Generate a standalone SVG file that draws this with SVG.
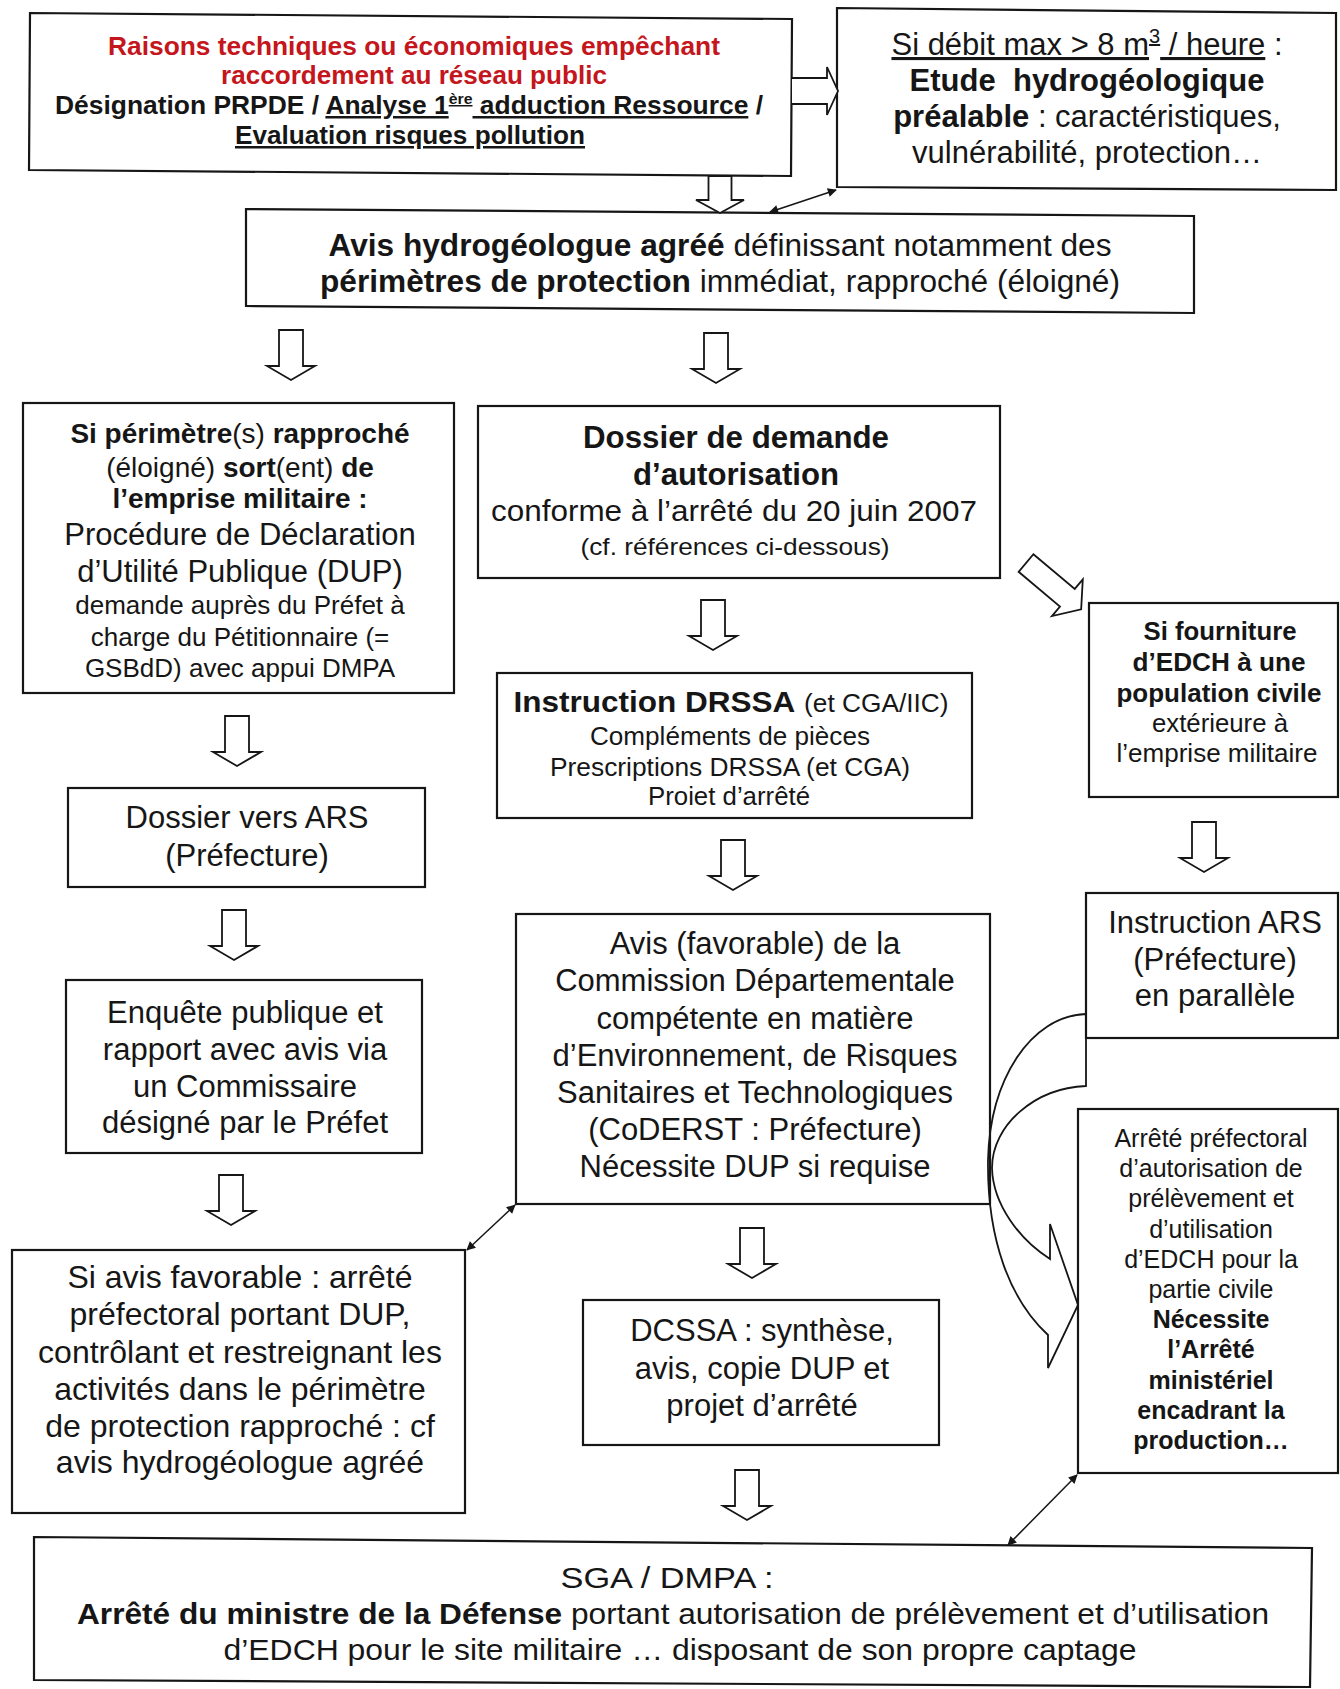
<svg xmlns="http://www.w3.org/2000/svg" width="1340" height="1689" viewBox="0 0 1340 1689">
<style>
.box{fill:#fff;stroke:#161616;stroke-width:2.2}
.t{font-family:"Liberation Sans",Arial,sans-serif;fill:#161616;text-anchor:middle}
.b{font-weight:bold}
.red{fill:#c4161c}
.u{text-decoration:underline}
.harr{fill:#fff;stroke:#161616;stroke-width:1.8;stroke-linejoin:miter}
.thin{fill:none;stroke:#161616;stroke-width:1.5;marker-start:url(#ah);marker-end:url(#ah)}
.curve{fill:none;stroke:#161616;stroke-width:1.8}
</style>
<defs>
<marker id="ah" viewBox="0 0 10 10" refX="9" refY="5" markerWidth="13" markerHeight="9" orient="auto-start-reverse" markerUnits="userSpaceOnUse"><path d="M0,0 L10,5 L0,10 z" fill="#161616"/></marker>
<path id="dn" d="M-12,0 H12 V36 H24 L0,50 L-24,36 H-12 Z"/>
</defs>
<rect width="1340" height="1689" fill="#fff"/>

<g id="n1">
<polygon class="box" points="30,13 792,19 791,176 29,170"/>
<text class="t b red" x="414" y="55" font-size="25" textLength="612" lengthAdjust="spacingAndGlyphs">Raisons techniques ou économiques empêchant</text>
<text class="t b red" x="414" y="84" font-size="25" textLength="386" lengthAdjust="spacingAndGlyphs">raccordement au réseau public</text>
<text class="t b" x="409" y="114" font-size="25" textLength="708" lengthAdjust="spacingAndGlyphs">Désignation PRPDE / <tspan class="u">Analyse 1<tspan dy="-10" font-size="15">ère</tspan><tspan dy="10"> adduction Ressource</tspan></tspan> /</text>
<text class="t b u" x="410" y="144" font-size="25" textLength="350" lengthAdjust="spacingAndGlyphs">Evaluation risques pollution</text>
</g>

<g id="n2">
<polygon class="box" points="837,8 1336,13 1336,190 837,187"/>
<text class="t" x="1087" y="55" font-size="31"><tspan class="u">Si débit max &gt; 8 m<tspan dy="-12" font-size="20">3</tspan><tspan dy="12"> / heure</tspan></tspan> :</text>
<text class="t b" x="1087" y="91" font-size="31" xml:space="preserve">Etude  hydrogéologique</text>
<text class="t" x="1087" y="127" font-size="31"><tspan class="b">préalable</tspan> : caractéristiques,</text>
<text class="t" x="1087" y="163" font-size="31">vulnérabilité, protection…</text>
</g>

<g id="n3">
<polygon class="box" points="246,209 1194,216 1194,313 246,306"/>
<text class="t" x="720" y="256" font-size="31" textLength="783" lengthAdjust="spacingAndGlyphs"><tspan class="b">Avis hydrogéologue agréé</tspan> définissant notamment des</text>
<text class="t" x="720" y="292" font-size="31" textLength="800" lengthAdjust="spacingAndGlyphs"><tspan class="b">périmètres de protection</tspan> immédiat, rapproché (éloigné)</text>
</g>

<g id="n4">
<rect class="box" x="23" y="403" width="431" height="290"/>
<text class="t" x="240" y="443" font-size="28"><tspan class="b">Si périmètre</tspan>(s) <tspan class="b">rapproché</tspan></text>
<text class="t" x="240" y="477" font-size="28">(éloigné) <tspan class="b">sort</tspan>(ent) <tspan class="b">de</tspan></text>
<text class="t b" x="240" y="508" font-size="28">l’emprise militaire :</text>
<text class="t" x="240" y="545" font-size="31">Procédure de Déclaration</text>
<text class="t" x="240" y="582" font-size="31">d’Utilité Publique (DUP)</text>
<text class="t" x="240" y="614" font-size="26">demande auprès du Préfet à</text>
<text class="t" x="240" y="646" font-size="26">charge du Pétitionnaire (=</text>
<text class="t" x="240" y="677" font-size="26">GSBdD) avec appui DMPA</text>
</g>

<g id="n5">
<rect class="box" x="478" y="406" width="522" height="172"/>
<text class="t b" x="736" y="448" font-size="31" textLength="306" lengthAdjust="spacingAndGlyphs">Dossier de demande</text>
<text class="t b" x="736" y="485" font-size="31" textLength="206" lengthAdjust="spacingAndGlyphs">d’autorisation</text>
<text class="t" x="734" y="521" font-size="30" textLength="486" lengthAdjust="spacingAndGlyphs">conforme à l’arrêté du 20 juin 2007</text>
<text class="t" x="735" y="555" font-size="24" textLength="309" lengthAdjust="spacingAndGlyphs">(cf. références ci-dessous)</text>
</g>

<g id="n6">
<rect class="box" x="497" y="673" width="475" height="145"/>
<text class="t" x="731" y="712" font-size="30" textLength="435" lengthAdjust="spacingAndGlyphs"><tspan class="b">Instruction DRSSA</tspan> <tspan font-size="25">(et CGA/IIC)</tspan></text>
<text class="t" x="730" y="745" font-size="25" textLength="280" lengthAdjust="spacingAndGlyphs">Compléments de pièces</text>
<text class="t" x="730" y="776" font-size="25" textLength="360" lengthAdjust="spacingAndGlyphs">Prescriptions DRSSA (et CGA)</text>
<text class="t" x="729" y="805" font-size="25" textLength="162" lengthAdjust="spacingAndGlyphs">Proiet d’arrêté</text>
</g>

<g id="n7">
<rect class="box" x="1089" y="603" width="249" height="194"/>
<text class="t b" x="1220" y="640" font-size="26" textLength="153" lengthAdjust="spacingAndGlyphs">Si fourniture</text>
<text class="t b" x="1219" y="671" font-size="26" textLength="173" lengthAdjust="spacingAndGlyphs">d’EDCH à une</text>
<text class="t b" x="1219" y="702" font-size="26" textLength="205" lengthAdjust="spacingAndGlyphs">population civile</text>
<text class="t" x="1220" y="732" font-size="26" textLength="136" lengthAdjust="spacingAndGlyphs">extérieure à</text>
<text class="t" x="1217" y="762" font-size="26" textLength="201" lengthAdjust="spacingAndGlyphs">l’emprise militaire</text>
</g>

<g id="n8">
<rect class="box" x="1086" y="893" width="252" height="145"/>
<text class="t" x="1215" y="933" font-size="31">Instruction ARS</text>
<text class="t" x="1215" y="970" font-size="31">(Préfecture)</text>
<text class="t" x="1215" y="1006" font-size="31">en parallèle</text>
</g>

<g id="n9">
<rect class="box" x="1078" y="1109" width="260" height="364"/>
<text class="t" x="1211" y="1147" font-size="25">Arrêté préfectoral</text>
<text class="t" x="1211" y="1177" font-size="25">d’autorisation de</text>
<text class="t" x="1211" y="1207" font-size="25">prélèvement et</text>
<text class="t" x="1211" y="1238" font-size="25">d’utilisation</text>
<text class="t" x="1211" y="1268" font-size="25">d’EDCH pour la</text>
<text class="t" x="1211" y="1298" font-size="25">partie civile</text>
<text class="t b" x="1211" y="1328" font-size="25">Nécessite</text>
<text class="t b" x="1211" y="1358" font-size="25">l’Arrêté</text>
<text class="t b" x="1211" y="1389" font-size="25">ministériel</text>
<text class="t b" x="1211" y="1419" font-size="25">encadrant la</text>
<text class="t b" x="1211" y="1449" font-size="25">production…</text>
</g>

<g id="n10">
<rect class="box" x="516" y="914" width="474" height="290"/>
<text class="t" x="755" y="954" font-size="31">Avis (favorable) de la</text>
<text class="t" x="755" y="991" font-size="31">Commission Départementale</text>
<text class="t" x="755" y="1029" font-size="31">compétente en matière</text>
<text class="t" x="755" y="1066" font-size="31">d’Environnement, de Risques</text>
<text class="t" x="755" y="1103" font-size="31">Sanitaires et Technologiques</text>
<text class="t" x="755" y="1140" font-size="31">(CoDERST : Préfecture)</text>
<text class="t" x="755" y="1177" font-size="31">Nécessite DUP si requise</text>
</g>

<g id="n11">
<rect class="box" x="68" y="788" width="357" height="99"/>
<text class="t" x="247" y="828" font-size="31">Dossier vers ARS</text>
<text class="t" x="247" y="866" font-size="31">(Préfecture)</text>
</g>

<g id="n12">
<rect class="box" x="66" y="980" width="356" height="173"/>
<text class="t" x="245" y="1023" font-size="31">Enquête publique et</text>
<text class="t" x="245" y="1060" font-size="31">rapport avec avis via</text>
<text class="t" x="245" y="1097" font-size="31">un Commissaire</text>
<text class="t" x="245" y="1133" font-size="31">désigné par le Préfet</text>
</g>

<g id="n13">
<rect class="box" x="12" y="1250" width="453" height="263"/>
<text class="t" x="240" y="1288" font-size="32">Si avis favorable : arrêté</text>
<text class="t" x="240" y="1325" font-size="32">préfectoral portant DUP,</text>
<text class="t" x="240" y="1363" font-size="32">contrôlant et restreignant les</text>
<text class="t" x="240" y="1400" font-size="32">activités dans le périmètre</text>
<text class="t" x="240" y="1437" font-size="32">de protection rapproché : cf</text>
<text class="t" x="240" y="1473" font-size="32">avis hydrogéologue agréé</text>
</g>

<g id="n14">
<rect class="box" x="583" y="1300" width="356" height="145"/>
<text class="t" x="762" y="1341" font-size="31">DCSSA : synthèse,</text>
<text class="t" x="762" y="1379" font-size="31">avis, copie DUP et</text>
<text class="t" x="762" y="1416" font-size="31">projet d’arrêté</text>
</g>

<g id="n15">
<polygon class="box" points="34,1537 1312,1548 1310,1687 34,1680"/>
<text class="t" x="667" y="1588" font-size="30" textLength="213" lengthAdjust="spacingAndGlyphs">SGA / DMPA :</text>
<text class="t" x="673" y="1624" font-size="30" textLength="1192" lengthAdjust="spacingAndGlyphs"><tspan class="b">Arrêté du ministre de la Défense</tspan> portant autorisation de prélèvement et d’utilisation</text>
<text class="t" x="680" y="1660" font-size="30" textLength="913" lengthAdjust="spacingAndGlyphs">d’EDCH pour le site militaire … disposant de son propre captage</text>
</g>

<g id="connectors">
<path class="harr" d="M792,78 H827 V67 L838,91 L827,115 V104 H792"/>
<path class="harr" d="M708.5,176 H731.5 V200 H744 L720,213 L696,200 H708.5 Z"/>
<line class="thin" x1="770" y1="212" x2="836" y2="190"/>
<use href="#dn" class="harr" transform="translate(291,330)"/>
<use href="#dn" class="harr" transform="translate(716,333)"/>
<use href="#dn" class="harr" transform="translate(713,600)"/>
<path class="harr" transform="translate(1026,563) rotate(40)" d="M0,-11.5 H54 V-24 L72,0 L54,24 V11.5 H0 Z"/>
<use href="#dn" class="harr" transform="translate(237,716)"/>
<use href="#dn" class="harr" transform="translate(234,910)"/>
<use href="#dn" class="harr" transform="translate(231,1175)"/>
<use href="#dn" class="harr" transform="translate(733,840)"/>
<use href="#dn" class="harr" transform="translate(752,1228)"/>
<use href="#dn" class="harr" transform="translate(747,1470)"/>
<use href="#dn" class="harr" transform="translate(1204,822)"/>
<line class="thin" x1="467" y1="1250" x2="515" y2="1205"/>
<line class="thin" x1="1077" y1="1475" x2="1008" y2="1545"/>
<path class="curve" d="M1086,1014 C1030,1016 990,1080 988,1160 C987,1240 1010,1300 1048,1335 L1048,1368 L1078,1305 L1050,1224 L1050,1259 C1020,1240 993,1205 992,1168 C992,1125 1035,1088 1086,1086 Z"/>
</g>
</svg>
